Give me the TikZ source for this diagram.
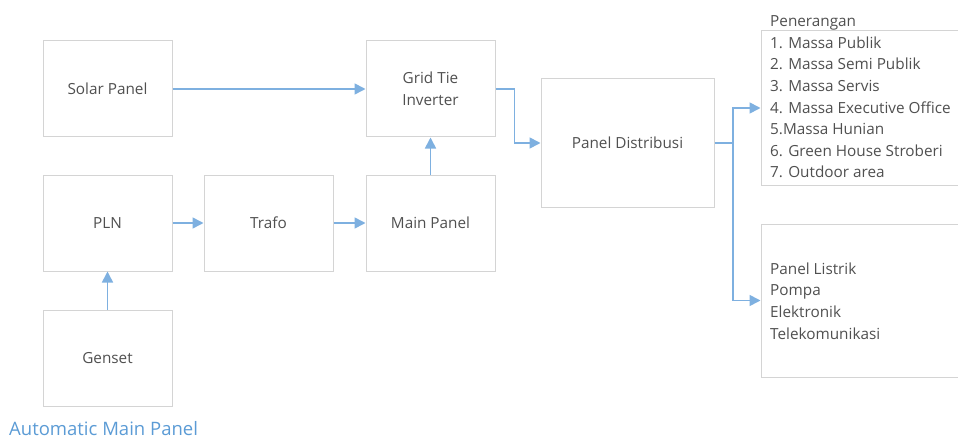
\documentclass[tikz,border=0pt]{standalone}
\usepackage{fontspec}
\setmainfont{Open Sans}
\usetikzlibrary{arrows.meta}
\definecolor{boxline}{HTML}{D4D4D4}
\definecolor{arrowc}{HTML}{7EB0E0}
\definecolor{txt}{HTML}{505050}
\definecolor{capc}{HTML}{5B9BD5}
\begin{document}
\begin{tikzpicture}[x=1pt,y=-1pt,
  box/.style={draw=boxline, line width=1pt, fill=white, minimum width=129pt, minimum height=96pt, inner sep=0pt, text=txt, font=\fontsize{15.3}{22}\selectfont, align=center},
  bigbox/.style={draw=boxline, line width=1pt, fill=white, inner sep=0pt},
  lst/.style={text=txt, font=\fontsize{15.3}{21.6}\selectfont, align=left, inner sep=0pt, anchor=west},
  link/.style={draw=arrowc, line width=1.6pt},
  conn/.style={link, -{Triangle[length=11pt,width=11pt]}}]
\useasboundingbox (0,0) rectangle (958,441);
\node[box] (solar) at (107.5,89) {Solar Panel};
\node[box] (gti) at (430.5,89) {Grid Tie\\Inverter};
\node[box] (pln) at (107.5,223) {PLN};
\node[box] (trafo) at (268.5,223) {Trafo};
\node[box] (main) at (430.5,223) {Main Panel};
\node[box] (genset) at (107.5,358) {Genset};
\node[box, minimum width=173pt, minimum height=128pt] (pd) at (627.5,143) {Panel Distribusi};
\node[bigbox, minimum width=200pt, minimum height=154pt] (pen) at (861,108) {};
\node[bigbox, minimum width=200pt, minimum height=153pt] (low) at (861,300.5) {};
\node[lst] (pentext) at (770,97) {Penerangan\\1. Massa Publik\\2. Massa Semi Publik\\3. Massa Servis\\4. Massa Executive Office\\5.Massa Hunian\\6. Green House Stroberi\\7. Outdoor area};
\node[lst] (lowtext) at (770,301) {Panel Listrik\\Pompa\\Elektronik\\Telekomunikasi};
\node[text=capc, font=\fontsize{18.5}{20}\selectfont, anchor=west, inner sep=0pt] (cap) at (9,429) {Automatic Main Panel};
\coordinate (fork) at (733,143);
\draw[conn] (solar.east) -- (gti.west);
\draw[conn] (main.north) -- (gti.south);
\draw[conn] (pln) -- (trafo);
\draw[conn] (trafo) -- (main);
\draw[conn] (genset) -- (pln);
\draw[conn] (gti.east) -- ++(19,0) |- (pd.west);
\draw[link] (pd.east) -- (fork);
\draw[conn] (fork) |- (pen.west);
\draw[conn] (fork) |- (low.west);
\end{tikzpicture}
\end{document}
